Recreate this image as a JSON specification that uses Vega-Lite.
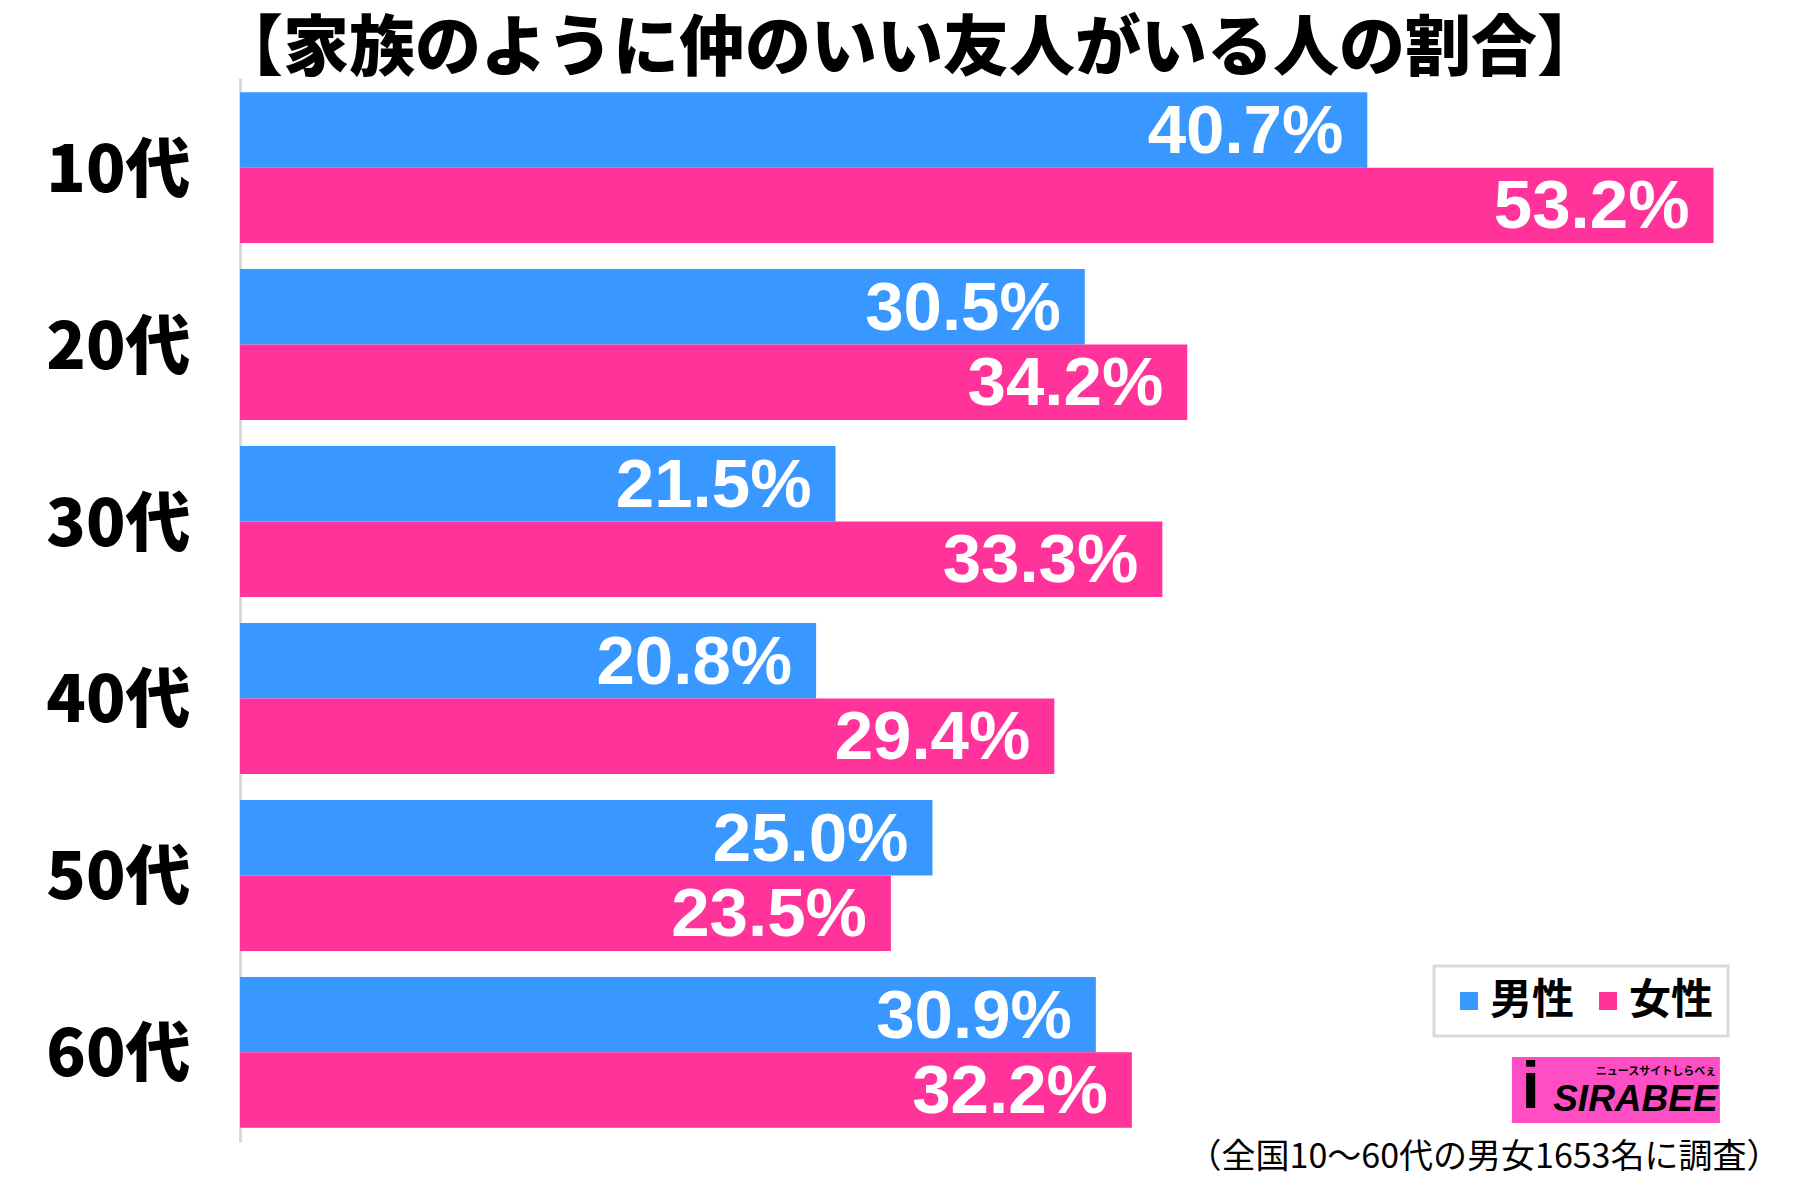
{
  "$schema": "https://vega.github.io/schema/vega-lite/v6.json",
  "autosize": {"type": "none"},
  "padding": {"left": 240, "top": 78, "right": 29, "bottom": 58},
  "width": 1540,
  "height": 1064,
  "background": "white",
  "title": {
    "text": "【家族のように仲のいい友人がいる人の割合】",
    "font": "Noto Sans CJK JP",
    "fontSize": 66,
    "fontWeight": 900,
    "color": "#000000",
    "anchor": "start",
    "frame": "group",
    "offset": -6,
    "dx": -23
  },
  "config": {
    "view": {"stroke": null}
  },
  "data": {
    "values": [
      {"age": "10代", "sex": "男性", "v": 40.7},
      {"age": "10代", "sex": "女性", "v": 53.2},
      {"age": "20代", "sex": "男性", "v": 30.5},
      {"age": "20代", "sex": "女性", "v": 34.2},
      {"age": "30代", "sex": "男性", "v": 21.5},
      {"age": "30代", "sex": "女性", "v": 33.3},
      {"age": "40代", "sex": "男性", "v": 20.8},
      {"age": "40代", "sex": "女性", "v": 29.4},
      {"age": "50代", "sex": "男性", "v": 25.0},
      {"age": "50代", "sex": "女性", "v": 23.5},
      {"age": "60代", "sex": "男性", "v": 30.9},
      {"age": "60代", "sex": "女性", "v": 32.2}
    ]
  },
  "encoding": {
    "y": {
      "field": "age",
      "type": "nominal",
      "sort": ["10代", "20代", "30代", "40代", "50代", "60代"],
      "scale": {"paddingInner": 0.147, "paddingOuter": 0.08},
      "axis": {
        "title": null,
        "ticks": false,
        "grid": false,
        "domain": true,
        "domainColor": "#d9d9d9",
        "domainWidth": 3,
        "labelFont": "Noto Sans CJK JP",
        "labelFontSize": 65,
        "labelFontWeight": 900,
        "labelColor": "#000000",
        "labelPadding": 50,
        "labelOffset": 4
      }
    },
    "yOffset": {
      "field": "sex",
      "type": "nominal",
      "sort": ["男性", "女性"],
      "scale": {"domain": ["男性", "女性"], "paddingInner": 0, "paddingOuter": 0}
    }
  },
  "layer": [
    {
      "mark": {"type": "bar"},
      "encoding": {
        "x": {
          "field": "v",
          "type": "quantitative",
          "scale": {"domain": [0, 55.6], "nice": false},
          "axis": {
            "labels": false,
            "ticks": false,
            "domain": false,
            "grid": false,
            "title": "（全国10〜60代の男女1653名に調査）",
            "titleFont": "Noto Sans CJK JP",
            "titleFontSize": 34,
            "titleFontWeight": "normal",
            "titleColor": "#000000",
            "titleAnchor": "end",
            "titlePadding": -2
          }
        },
        "color": {
          "field": "sex",
          "type": "nominal",
          "scale": {"domain": ["男性", "女性"], "range": ["#3898FF", "#FF3399"]},
          "legend": {
            "title": null,
            "orient": "none",
            "legendX": 1194,
            "legendY": 888,
            "direction": "horizontal",
            "symbolType": "square",
            "symbolSize": 324,
            "symbolStrokeWidth": 0,
            "labelFont": "Noto Sans CJK JP",
            "labelFontSize": 42,
            "labelFontWeight": "bold",
            "labelColor": "#000000",
            "labelOffset": 0,
            "columnPadding": 12,
            "padding": 14,
            "strokeColor": "#d9d9d9",
            "fillColor": "white",
            "encode": {
              "legend": {"update": {"strokeWidth": {"value": 3}}}
            }
          }
        }
      }
    },
    {
      "mark": {
        "type": "text",
        "align": "right",
        "baseline": "middle",
        "dx": -24,
        "dy": 2,
        "font": "Liberation Sans",
        "fontWeight": "bold",
        "fontSize": 69,
        "color": "white",
        "text": {"expr": "format(datum.v, '.1f') + '%'"}
      },
      "encoding": {
        "x": {"field": "v", "type": "quantitative"}
      }
    },
    {
      "data": {"values": [{"logo": "SIRABEE"}]},
      "mark": {"type": "bar", "color": "#FF4DC4", "height": 66},
      "encoding": {
        "x": {"datum": 45.92},
        "x2": {"datum": 53.43},
        "y": {"datum": "60代"},
        "yOffset": {"datum": "女性"}
      }
    },
    {
      "data": {"values": [{"logo": "SIRABEE"}]},
      "mark": {
        "type": "text",
        "align": "right",
        "baseline": "middle",
        "dy": 10,
        "font": "Liberation Sans",
        "fontWeight": "bold",
        "fontStyle": "italic",
        "fontSize": 37,
        "color": "#000000",
        "text": "SIRABEE"
      },
      "encoding": {
        "x": {"datum": 53.35},
        "y": {"datum": "60代"},
        "yOffset": {"datum": "女性"}
      }
    },
    {
      "data": {"values": [{"logo": "ニュースサイトしらべぇ"}]},
      "mark": {
        "type": "text",
        "align": "right",
        "baseline": "middle",
        "dy": -18,
        "font": "Noto Sans CJK JP",
        "fontWeight": "bold",
        "fontSize": 11,
        "color": "#000000",
        "text": "ニュースサイトしらべぇ"
      },
      "encoding": {
        "x": {"datum": 53.3},
        "y": {"datum": "60代"},
        "yOffset": {"datum": "女性"}
      }
    },
    {
      "data": {"values": [{"logo": "i"}]},
      "mark": {
        "type": "text",
        "align": "center",
        "baseline": "middle",
        "dy": -2,
        "font": "Liberation Sans",
        "fontWeight": "bold",
        "fontSize": 66,
        "color": "#000000",
        "text": "i"
      },
      "encoding": {
        "x": {"datum": 46.6},
        "y": {"datum": "60代"},
        "yOffset": {"datum": "女性"}
      }
    }
  ]
}
